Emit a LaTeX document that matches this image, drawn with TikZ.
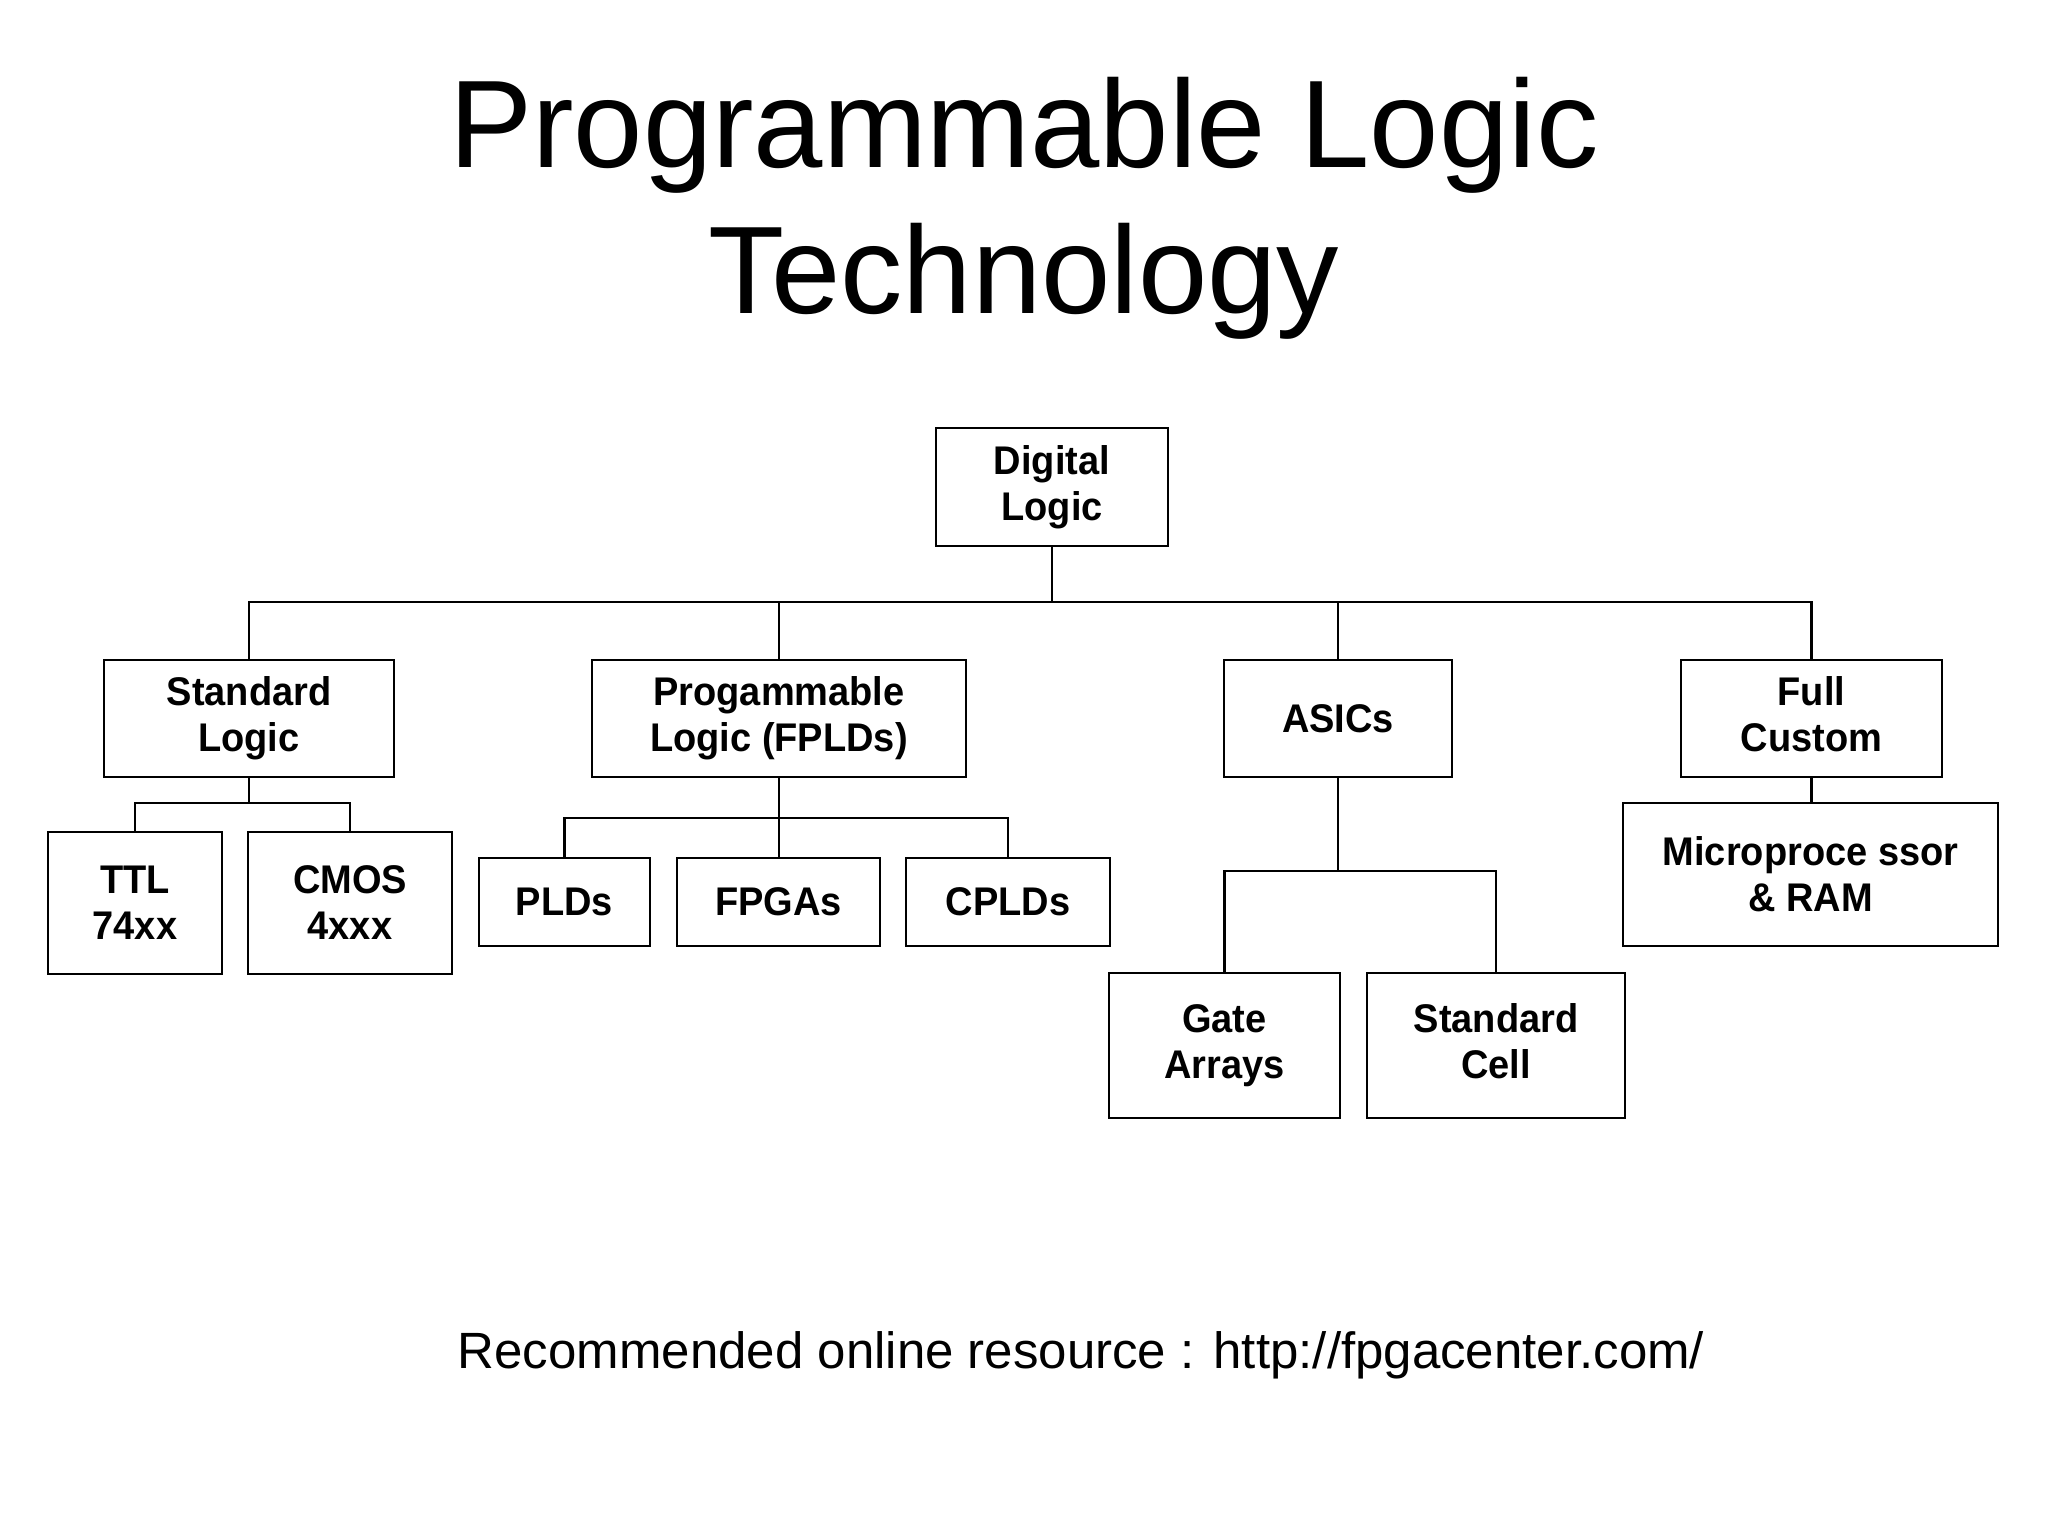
\documentclass[tikz,border=0pt]{standalone}
\usepackage{fontspec}
\setmainfont{Liberation Sans}
\newfontfamily\boxfont{Liberation Sans}[FakeStretch=0.95]
\usetikzlibrary{positioning}

\begin{document}
\begin{tikzpicture}[x=0.5pt, y=-0.5pt,
    block/.style={rectangle, draw, line width=1.4pt, align=center, inner sep=0pt, font=\boxfont\bfseries\fontsize{20}{23}\selectfont},
    mid/.style={block, minimum height=58.5pt},
    low/.style={block, minimum height=71pt},
    line/.style={line width=1.4pt}]
\useasboundingbox (0,0) rectangle (2048,1536);
\node (title) [align=center, inner sep=0pt, font=\fontsize{62.3}{73}\selectfont] at (1024,208.5) {Programmable Logic\\Technology};
\node (digital) [block, minimum width=116pt, minimum height=59pt] at (1052,487) {Digital\\Logic};
\node (stdlogic) [mid, minimum width=145pt] at (249,718.5) {Standard\\Logic};
\node (fpld) [mid, minimum width=187pt] at (779,718.5) {Progammable\\Logic (FPLDs)};
\node (asics) [mid, minimum width=114pt] at (1338,718.5) {ASICs};
\node (full) [mid, minimum width=130.5pt] at (1811.5,718.5) {Full\\Custom\vphantom{g}};
\node (ttl) [low, minimum width=87pt] at (135,903) {TTL\\74xx};
\node (cmos) [low, minimum width=102pt] at (350,903) {CMOS\\4xxx};
\node (plds) [block, minimum width=85.5pt, minimum height=44pt] at (564.5,902) {PLDs};
\node (fpgas) [block, minimum width=101.5pt, minimum height=44pt] at (778.5,902) {FPGAs};
\node (cplds) [block, minimum width=102pt, minimum height=44pt] at (1008,902) {CPLDs};
\node (gate) [block, minimum width=115.5pt, minimum height=72.5pt] at (1224.5,1045.5) {Gate\\Arrays};
\node (stdcell) [block, minimum width=129pt, minimum height=72.5pt] at (1496,1045.5) {Standard\\Cell\vphantom{g}};
\node (micro) [block, minimum width=187.5pt, minimum height=71.5pt] at (1810.5,874.5) {Microproce ssor\\\& RAM};
\node (footer) [anchor=base, inner sep=0pt, font=\fontsize{25.5}{30}\selectfont] at (1081,1368) {Recommended online resource : http://fpgacenter.com/};
% top level
\coordinate (topbus) at (0,602);
\draw [line] (digital.south) -- (digital.south |- topbus);
\draw [line] (stdlogic.north) -- (stdlogic.north |- topbus) -- (full.north |- topbus) -- (full.north);
\draw [line] (fpld.north) -- (fpld.north |- topbus);
\draw [line] (asics.north) -- (asics.north |- topbus);
% standard logic
\coordinate (stdbus) at (0,803);
\draw [line] (stdlogic.south) -- (stdlogic.south |- stdbus);
\draw [line] (ttl.north) -- (ttl.north |- stdbus) -- (cmos.north |- stdbus) -- (cmos.north);
% fplds
\coordinate (fpldbus) at (0,818);
\draw [line] (fpld.south) -- (fpld.south |- fpgas.north);
\draw [line] (plds.north) -- (plds.north |- fpldbus) -- (cplds.north |- fpldbus) -- (cplds.north);
% asics
\coordinate (asicbus) at (0,871);
\draw [line] (asics.south) -- (asics.south |- asicbus);
\draw [line] (gate.north) -- (gate.north |- asicbus) -- (stdcell.north |- asicbus) -- (stdcell.north);
% full custom
\draw [line] (full.south) -- (full.south |- micro.north);
\end{tikzpicture}
\end{document}
